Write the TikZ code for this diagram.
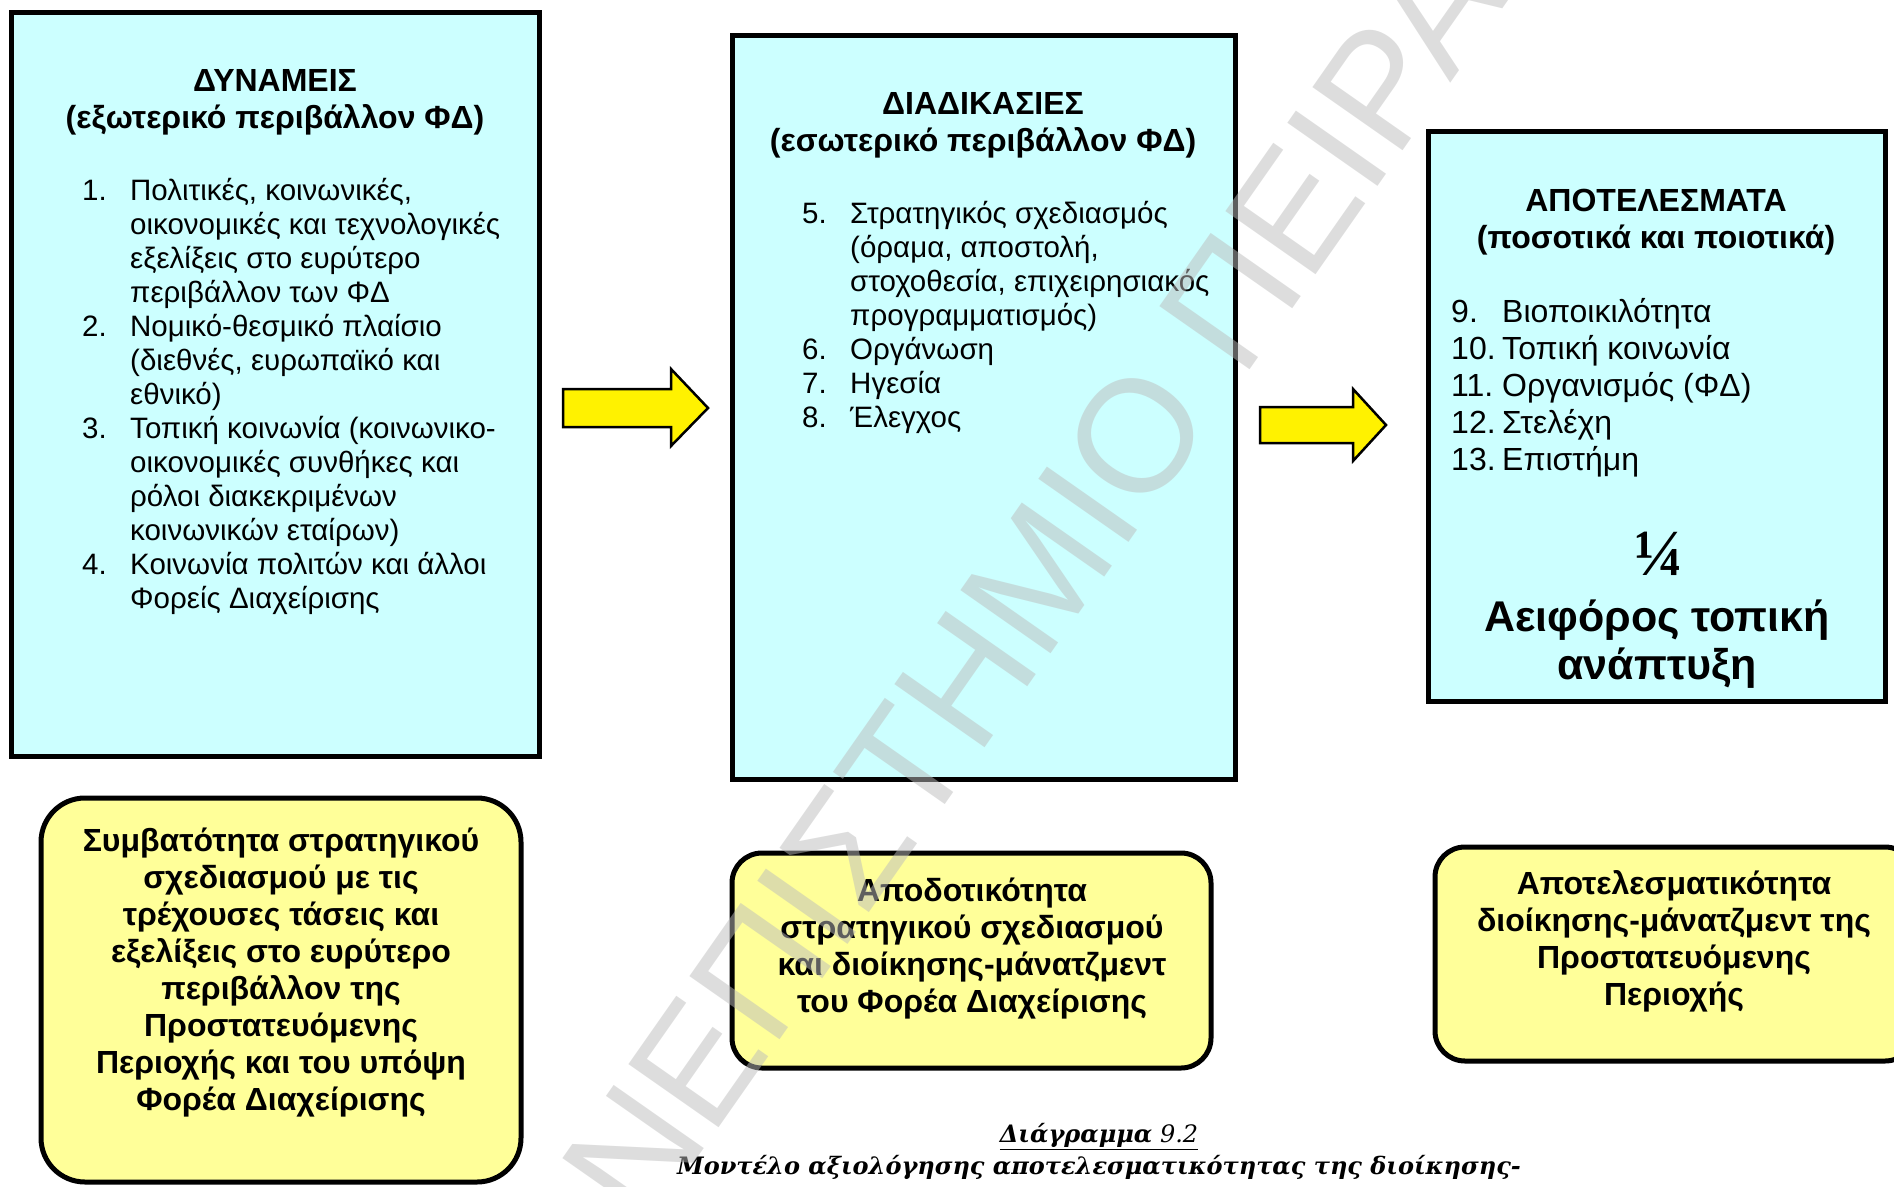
\documentclass[tikz,border=0pt]{standalone}
\usepackage{fontspec}
\setmainfont{Liberation Sans}
\newfontfamily\capfont{DejaVu Serif}
\newfontfamily\fracfont{Liberation Serif}

\definecolor{boxcyan}{RGB}{204,255,255}
\definecolor{noteyellow}{RGB}{255,255,153}
\definecolor{wmgray}{RGB}{188,188,188}

% numbered list lines with a hanging indent
\newcommand{\listnum}[2][48pt]{\makebox[#1][l]{#2}}
\newcommand{\listcont}{\hspace*{48pt}}

\begin{document}
\begin{tikzpicture}[x=1pt,y=-1pt,
  panel/.style={draw,line width=5pt,fill=boxcyan},
  note/.style={draw,line width=5pt,fill=noteyellow,rounded corners=#1},
  note/.default=30pt,
  blockarrow/.style={draw,line width=2.5pt,fill=yellow,line join=miter},
  head/.style={font=\fontsize{32}{37}\selectfont\bfseries,align=center,inner sep=0pt},
  items/.style={font=\fontsize{29.5}{34}\selectfont,align=left,anchor=north west,inner sep=0pt}]
\useasboundingbox (0,0) rectangle (1894,1186);
\clip (0,0) rectangle (1894,1186);

% the three panels
\draw[panel] (11,12) rectangle (539,756);
\draw[panel] (732,35) rectangle (1235,779);
\draw[panel] (1428,131) rectangle (1885,701);

% block arrows between the panels
\draw[blockarrow] (563,389) -- (671,389) -- (671,369) -- (708,408) -- (671,446) -- (671,427) -- (563,427) -- cycle;
\draw[blockarrow] (1260,407) -- (1353,407) -- (1353,389) -- (1386,425) -- (1353,461) -- (1353,443) -- (1260,443) -- cycle;

% yellow notes under the panels
\draw[note=44pt] (41,798) rectangle (521,1182);
\draw[note] (732,853) rectangle (1211,1068);
\draw[note] (1435,847) rectangle (1915,1061);

% panel 1
\node[head] (forces) at (275,102.5) {ΔΥΝΑΜΕΙΣ\\(εξωτερικό περιβάλλον ΦΔ)};
\node[items] (forcelist) at (82,178) {\listnum{1.}Πολιτικές, κοινωνικές,\\
  \listcont οικονομικές και τεχνολογικές\\
  \listcont εξελίξεις στο ευρύτερο\\
  \listcont περιβάλλον των ΦΔ\\
  \listnum{2.}Νομικό-θεσμικό πλαίσιο\\
  \listcont (διεθνές, ευρωπαϊκό και\\
  \listcont εθνικό)\\
  \listnum{3.}Τοπική κοινωνία (κοινωνικο-\\
  \listcont οικονομικές συνθήκες και\\
  \listcont ρόλοι διακεκριμένων\\
  \listcont κοινωνικών εταίρων)\\
  \listnum{4.}Κοινωνία πολιτών και άλλοι\\
  \listcont Φορείς Διαχείρισης};

% panel 2
\node[head] (processes) at (983,125.5) {ΔΙΑΔΙΚΑΣΙΕΣ\\(εσωτερικό περιβάλλον ΦΔ)};
\node[items] (processlist) at (802,201) {\listnum{5.}Στρατηγικός σχεδιασμός\\
  \listcont (όραμα, αποστολή,\\
  \listcont στοχοθεσία, επιχειρησιακός\\
  \listcont προγραμματισμός)\\
  \listnum{6.}Οργάνωση\\
  \listnum{7.}Ηγεσία\\
  \listnum{8.}Έλεγχος};

% panel 3
\node[head] (results) at (1656,222) {ΑΠΟΤΕΛΕΣΜΑΤΑ\\(ποσοτικά και ποιοτικά)};
\node[items,font=\fontsize{32}{37}\selectfont] (resultlist) at (1451,298) {\listnum[51pt]{9.}Βιοποικιλότητα\\
  \listnum[51pt]{10.}Τοπική κοινωνία\\
  \listnum[51pt]{11.}Οργανισμός (ΦΔ)\\
  \listnum[51pt]{12.}Στελέχη\\
  \listnum[51pt]{13.}Επιστήμη};
\node[font=\fracfont\bfseries\fontsize{66}{66}\selectfont,inner sep=0pt] (quarter) at (1659,554) {¼};
\node[font=\bfseries\fontsize{43}{48}\selectfont,align=center,inner sep=0pt] (goal) at (1657,644) {Αειφόρος τοπική\\ανάπτυξη};

% notes
\node[head] (fit) at (281,972.5) {Συμβατότητα στρατηγικού\\σχεδιασμού με τις\\τρέχουσες τάσεις και\\εξελίξεις στο ευρύτερο\\περιβάλλον της\\Προστατευόμενης\\Περιοχής και του υπόψη\\Φορέα Διαχείρισης};
\node[head] (efficiency) at (972,948.5) {Αποδοτικότητα\\στρατηγικού σχεδιασμού\\και διοίκησης-μάνατζμεντ\\του Φορέα Διαχείρισης};
\node[head] (effectiveness) at (1674,941) {Αποτελεσματικότητα\\διοίκησης-μάνατζμεντ της\\Προστατευόμενης\\Περιοχής};

% caption
\node[font=\capfont\fontsize{24}{31.4}\selectfont,align=center,inner sep=0pt] (caption) at (1099,1151.5)
  {\underline{\textbf{\textit{Διάγραμμα}} \textit{9.2}}\\\textbf{\textit{Μοντέλο αξιολόγησης αποτελεσματικότητας της διοίκησης-}}};

% watermark over everything
\node[font=\fontsize{160}{160}\selectfont,text=wmgray,text opacity=0.5,rotate=55,anchor=base] (stamp) at (1090,598) {ΠΑΝΕΠΙΣΤΗΜΙΟ ΠΕΙΡΑΙΩΣ};
\end{tikzpicture}
\end{document}
